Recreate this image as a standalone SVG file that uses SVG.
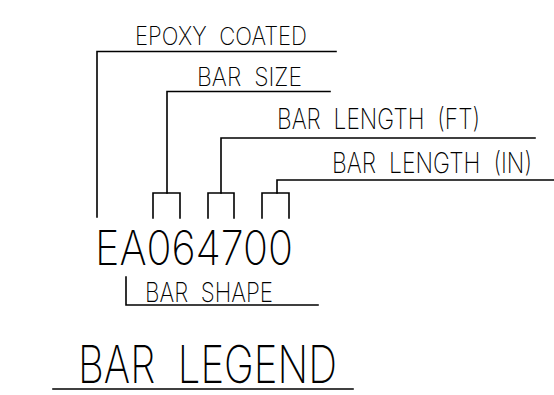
<svg xmlns="http://www.w3.org/2000/svg" width="554" height="395" viewBox="0 0 554 395" xml:space="preserve">
<style>
.l{fill:none;stroke:#000;stroke-width:1.6;stroke-linecap:square}
text{font-family:Inter,"Liberation Sans",Arial,sans-serif;font-weight:200;fill:#000;white-space:pre}
</style>
<rect width="554" height="395" fill="#fff"/>
<g id="connectors">
<polyline class="l" points="336,51.5 97,51.5 97,217"/>
<polyline class="l" points="330,91.5 167,91.5 167,193"/>
<polyline class="l" points="153,218 153,193 180,193 180,218"/>
<polyline class="l" points="535,138 221,138 221,193"/>
<polyline class="l" points="208,218 208,193 234,193 234,218"/>
<polyline class="l" points="554,180 277,180 277,193"/>
<polyline class="l" points="262,218 262,193 289,193 289,218"/>
<polyline class="l" points="126,277 126,305 318,305"/>
<line class="l" x1="53" y1="389" x2="353" y2="389"/>
</g>
<g id="epoxy-coated"><text x="135" y="45" font-size="25" textLength="172" lengthAdjust="spacingAndGlyphs">EPOXY  COATED</text></g>
<g id="bar-size"><text x="197" y="86" font-size="26" textLength="105" lengthAdjust="spacingAndGlyphs">BAR  SIZE</text></g>
<g id="bar-length-ft"><text x="277" y="129" font-size="28" textLength="203" lengthAdjust="spacingAndGlyphs">BAR  LENGTH  (FT)</text></g>
<g id="bar-length-in"><text transform="translate(332,173) scale(1,1.17)" x="0" y="0" font-size="24" textLength="200" lengthAdjust="spacingAndGlyphs">BAR  LENGTH  (IN)</text></g>
<g id="code"><text x="95" y="265" font-size="48" textLength="198" lengthAdjust="spacingAndGlyphs">EA064700</text></g>
<g id="bar-shape"><text x="145" y="302" font-size="27" textLength="128" lengthAdjust="spacingAndGlyphs">BAR  SHAPE</text></g>
<g id="bar-legend"><text x="78" y="383" font-size="52" textLength="259" lengthAdjust="spacingAndGlyphs">BAR  LEGEND</text></g>
</svg>
